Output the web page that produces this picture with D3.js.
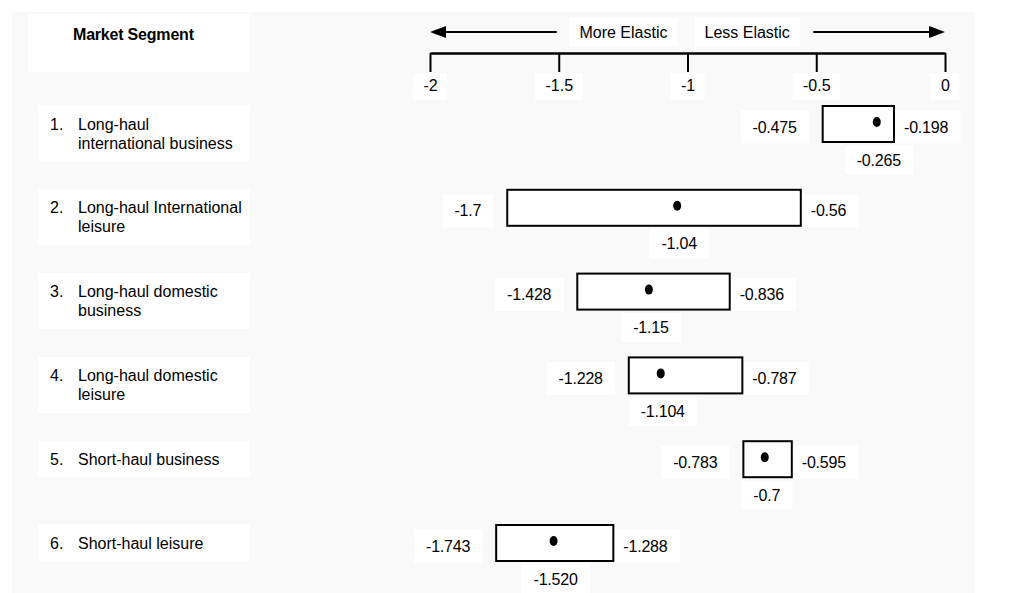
<!DOCTYPE html>
<html>
<head>
<meta charset="utf-8">
<script src="https://cdn.jsdelivr.net/npm/d3@7"></script>
<style>
  html, body { margin: 0; padding: 0; background: #ffffff; }
  svg { display: block; }
  text { font-family: "Liberation Sans", Arial, sans-serif; fill: #000; }
</style>
</head>
<body>
<svg id="chart" width="1014" height="593"></svg>
<script>
// ---------------- DATA ----------------
const segmentNumbers = ["1.", "2.", "3.", "4.", "5.", "6."];
const segmentLines = [
  ["Long-haul", "international business"],
  ["Long-haul International", "leisure"],
  ["Long-haul domestic", "business"],
  ["Long-haul domestic", "leisure"],
  ["Short-haul business"],
  ["Short-haul leisure"]
];
const lowLabels   = ["-0.475", "-1.7",  "-1.428", "-1.228", "-0.783", "-1.743"];
const highLabels  = ["-0.198", "-0.56", "-0.836", "-0.787", "-0.595", "-1.288"];
const pointLabels = ["-0.265", "-1.04", "-1.15",  "-1.104", "-0.7",   "-1.520"];
const tickValues  = [-2, -1.5, -1, -0.5, 0];
const headerLabel = "Market Segment";
const moreLabel = "More Elastic";
const lessLabel = "Less Elastic";

// ---------------- LAYOUT ----------------
const svg = d3.select("#chart");
const FONT = 16;
const axisY = 53;
const boxH = 36;

const x = d3.scaleLinear().domain([-2, 0]).range([430, 945]);
const y = d3.scalePoint().domain(d3.range(segmentNumbers.length)).range([124, 543]);

const rows = segmentNumbers.map((n, i) => ({
  i, num: n, lines: segmentLines[i],
  low: +lowLabels[i], high: +highLabels[i], pt: +pointLabels[i],
  lowL: lowLabels[i], highL: highLabels[i], ptL: pointLabels[i]
}));

// background panel
svg.append("rect").attr("x", 12).attr("y", 12).attr("width", 963).attr("height", 581).attr("fill", "#f9f9f9");
const bgLayer = svg.append("g");
const fg = svg.append("g");

function whiteBehind(sel, px, py) {
  sel.each(function() {
    const b = this.getBBox();
    bgLayer.append("rect")
      .attr("x", b.x - px).attr("y", b.y - py)
      .attr("width", b.width + 2 * px).attr("height", b.height + 2 * py)
      .attr("fill", "#ffffff");
  });
}

// header
fg.append("text").attr("x", 73).attr("y", 34).attr("dominant-baseline", "central")
  .style("font-size", FONT + "px").style("font-weight", "bold").style("letter-spacing", "-0.2px").text(headerLabel);
bgLayer.append("rect").attr("x", 28).attr("y", 14).attr("width", 222).attr("height", 58).attr("fill", "#fff");

// arrows + elastic labels
const arrowY = 32;
const ag = fg.append("g");
const moreT = ag.append("text").attr("x", x(-1) - 20).attr("y", arrowY).attr("text-anchor", "end")
  .attr("dominant-baseline", "central").style("font-size", FONT + "px").text(moreLabel);
const lessT = ag.append("text").attr("x", x(-1) + 17).attr("y", arrowY).attr("text-anchor", "start")
  .attr("dominant-baseline", "central").style("font-size", FONT + "px").text(lessLabel);
whiteBehind(moreT, 10, 6);
whiteBehind(lessT, 10, 6);
ag.append("line").attr("x1", x(-2) + 12).attr("x2", x(-1.5) - 2).attr("y1", arrowY).attr("y2", arrowY)
  .attr("stroke", "#000").attr("stroke-width", 2);
ag.append("path").attr("d", d3.line()([[x(-2), arrowY], [x(-2) + 16, arrowY - 6], [x(-2) + 16, arrowY + 6]]) + "Z")
  .attr("fill", "#000");
ag.append("line").attr("x1", x(-0.5) - 3).attr("x2", x(0) - 12).attr("y1", arrowY).attr("y2", arrowY)
  .attr("stroke", "#000").attr("stroke-width", 2);
ag.append("path").attr("d", d3.line()([[x(0), arrowY], [x(0) - 16, arrowY - 6], [x(0) - 16, arrowY + 6]]) + "Z")
  .attr("fill", "#000");

// axis
const axis = d3.axisBottom(x).tickValues(tickValues).tickSize(19).tickSizeOuter(0).tickPadding(8)
  .tickFormat(d => String(d));
const ax = fg.append("g").attr("transform", `translate(0,${axisY})`).call(axis);
ax.select(".domain").attr("stroke", "#000").attr("stroke-width", 2.5);
ax.selectAll(".tick line").attr("stroke", "#000").attr("stroke-width", 2);
ax.selectAll(".tick text").style("font-size", FONT + "px").style("font-family", "Liberation Sans, Arial, sans-serif")
  .attr("fill", "#000");
ax.selectAll(".tick").each(function(d) {
  const t = d3.select(this).select("text").node().getBBox();
  bgLayer.append("rect").attr("x", x(d) + t.x - 10).attr("y", axisY + t.y - 4)
    .attr("width", t.width + 20).attr("height", t.height + 10).attr("fill", "#fff");
});

// left row labels
rows.forEach(r => {
  const g = fg.append("g");
  const yy = y(r.i);
  g.append("text").attr("x", 50).attr("y", yy).attr("dominant-baseline", "central")
    .style("font-size", FONT + "px").text(r.num);
  r.lines.forEach((ln, k) => {
    g.append("text").attr("x", 78).attr("y", yy + k * 19).attr("dominant-baseline", "central")
      .style("font-size", FONT + "px").text(ln);
  });
  const b = g.node().getBBox();
  bgLayer.append("rect").attr("x", 38).attr("y", b.y - 10).attr("width", 212).attr("height", b.height + 20)
    .attr("fill", "#fff");
});

// boxes, points, value labels
const rg = fg.selectAll("g.row").data(rows).join("g").attr("class", "row");
rg.append("rect")
  .attr("x", d => x(d.low)).attr("width", d => x(d.high) - x(d.low))
  .attr("y", d => y(d.i) - boxH / 2).attr("height", boxH)
  .attr("fill", "#fff").attr("stroke", "#000").attr("stroke-width", 2);
rg.append("ellipse")
  .attr("cx", d => x(d.pt)).attr("cy", d => y(d.i) - 2)
  .attr("rx", 4).attr("ry", 5).attr("fill", "#000");
const lowT = rg.append("text").attr("x", d => x(d.low) - 26).attr("y", d => y(d.i) + 3)
  .attr("text-anchor", "end").attr("dominant-baseline", "central").style("font-size", FONT + "px")
  .style("letter-spacing", "-0.2px").text(d => d.lowL);
const highT = rg.append("text").attr("x", d => x(d.high) + 10).attr("y", d => y(d.i) + 3)
  .attr("text-anchor", "start").attr("dominant-baseline", "central").style("font-size", FONT + "px")
  .style("letter-spacing", "-0.2px").text(d => d.highL);
const ptT = rg.append("text").attr("x", d => x(d.pt) + 2).attr("y", d => y(d.i) + boxH / 2 + 18)
  .attr("text-anchor", "middle").attr("dominant-baseline", "central").style("font-size", FONT + "px")
  .style("letter-spacing", "-0.2px").text(d => d.ptL);
whiteBehind(lowT, 12, 8);
whiteBehind(highT, 12, 8);
whiteBehind(ptT, 12, 6);
</script>
</body>
</html>
